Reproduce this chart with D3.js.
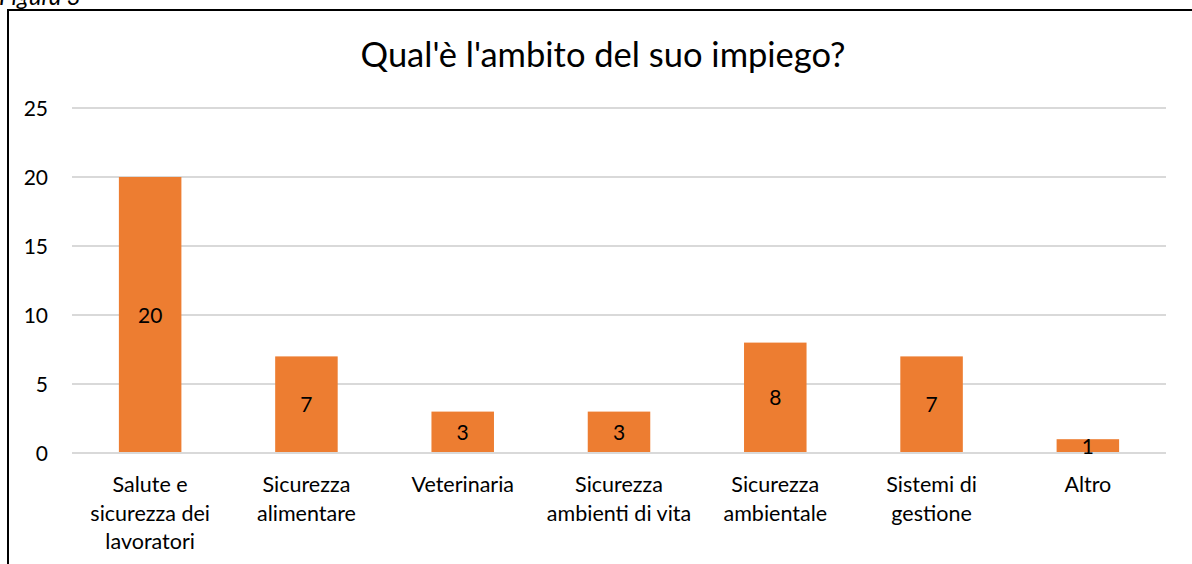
<!DOCTYPE html>
<html>
<head>
<meta charset="utf-8">
<script src="https://cdn.jsdelivr.net/npm/d3@7"></script>
<style>
  body { margin: 0; background: #fff; }
  svg text { font-family: Lato, "Open Sans", sans-serif; fill: #000; }
</style>
</head>
<body>
<div id="chart"></div>
<script>
const categories = [
  ["Salute e", "sicurezza dei", "lavoratori"],
  ["Sicurezza", "alimentare"],
  ["Veterinaria"],
  ["Sicurezza", "ambienti di vita"],
  ["Sicurezza", "ambientale"],
  ["Sistemi di", "gestione"],
  ["Altro"]
];
const values = [20, 7, 3, 3, 8, 7, 1];
const yTicks = [0, 5, 10, 15, 20, 25];

const W = 1192, H = 564;
const margin = {top: 108, right: 26, bottom: 111, left: 72};
const width = W - margin.left - margin.right;
const height = H - margin.top - margin.bottom;

const root = d3.select("#chart")
  .append("svg")
  .attr("width", W)
  .attr("height", H);

// caption, cut off at the top like in the source page
root.append("text")
  .attr("x", -1)
  .attr("y", 5)
  .style("font-size", "24px")
  .style("font-style", "italic")
  .text("Figura 3");

// chart frame
root.append("path")
  .attr("d", `M8,${H + 2}V10H${W + 2}`)
  .attr("fill", "none")
  .attr("stroke", "#000")
  .attr("stroke-width", 2);

root.append("text")
  .attr("x", 603)
  .attr("y", 67)
  .attr("text-anchor", "middle")
  .style("font-size", "34.5px")
  .text("Qual'è l'ambito del suo impiego?");

const svg = root.append("g")
  .attr("transform", `translate(${margin.left},${margin.top})`);

const x = d3.scaleBand()
  .domain(d3.range(categories.length))
  .range([0, width])
  .paddingInner(0.6)
  .paddingOuter(0.3);

const y = d3.scaleLinear()
  .domain([0, 25])
  .range([height, 0]);

// gridlines
svg.append("g")
  .selectAll("line")
  .data(yTicks)
  .enter()
  .append("line")
  .attr("x1", 0)
  .attr("x2", width)
  .attr("y1", d => y(d))
  .attr("y2", d => y(d))
  .attr("stroke", "#d9d9d9")
  .attr("stroke-width", 2);

// y labels
svg.append("g")
  .selectAll("text")
  .data(yTicks)
  .enter()
  .append("text")
  .attr("x", -24)
  .attr("y", d => y(d))
  .attr("dy", "0.36em")
  .attr("text-anchor", "end")
  .style("font-size", "21px")
  .text(d => d);

svg.selectAll(".bar")
  .data(values)
  .enter()
  .append("rect")
  .attr("class", "bar")
  .attr("x", (d, i) => x(i))
  .attr("width", x.bandwidth())
  .attr("y", d => y(d))
  .attr("height", d => height - y(d) - 1)
  .attr("fill", "#ed7d31");

svg.selectAll(".label")
  .data(values)
  .enter()
  .append("text")
  .attr("class", "label")
  .attr("x", (d, i) => x(i) + x.bandwidth() / 2)
  .attr("y", d => (y(d) + height) / 2)
  .attr("dy", "0.36em")
  .attr("text-anchor", "middle")
  .style("font-size", "21px")
  .text(d => d);

// category labels
const cat = svg.append("g")
  .selectAll("text")
  .data(categories)
  .enter()
  .append("text")
  .attr("text-anchor", "middle")
  .attr("transform", (d, i) => `translate(${x(i) + x.bandwidth() / 2},${height + 39})`)
  .style("font-size", "21.5px");

cat.selectAll("tspan")
  .data(d => d)
  .enter()
  .append("tspan")
  .attr("x", 0)
  .attr("y", (d, j) => j * 28.5)
  .text(d => d);
</script>
</body>
</html>
